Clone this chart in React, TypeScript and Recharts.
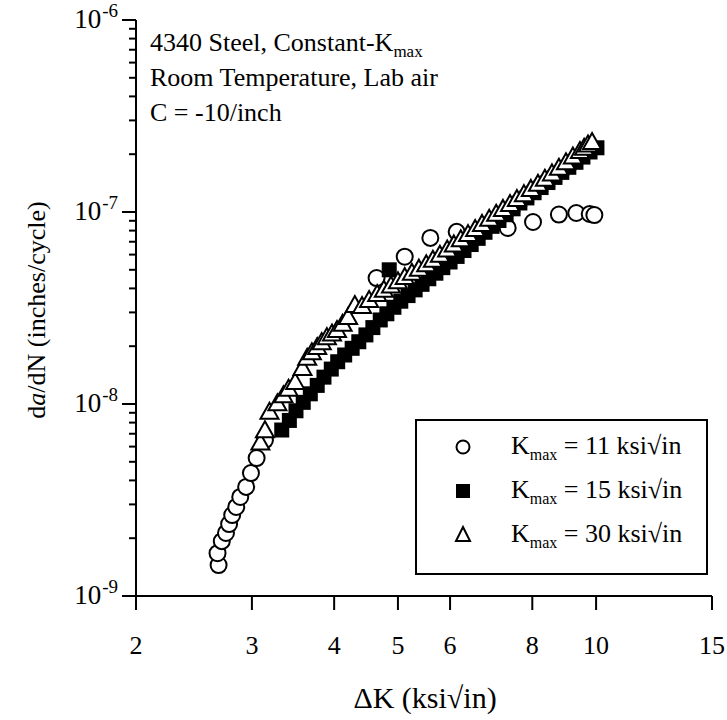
import React from "react";
import { ScatterChart, Scatter, XAxis, YAxis } from "recharts";

// Kmax = 11 ksi√in (open circles)
const dK11 = [2.67, 2.66, 2.7, 2.74, 2.77, 2.8, 2.84, 2.88, 2.94, 2.99, 3.05, 3.14, 4.64, 5.12, 5.6, 6.14, 7.34, 8.02, 8.78, 9.33, 9.78, 9.94];
const rate11 = [1.45e-9, 1.67e-9, 1.93e-9, 2.13e-9, 2.37e-9, 2.64e-9, 2.91e-9, 3.28e-9, 3.7e-9, 4.37e-9, 5.23e-9, 6.49e-9, 4.53e-8, 5.85e-8, 7.33e-8, 7.88e-8, 8.26e-8, 8.87e-8, 9.7e-8, 9.88e-8, 9.77e-8, 9.64e-8];

// Kmax = 15 ksi√in (filled squares)
const dK15 = [3.33, 3.42, 3.5, 3.59, 3.68, 3.77, 3.86, 3.96, 4.05, 4.15, 4.26, 4.36, 4.47, 4.58, 4.7, 4.85, 4.81, 4.93, 5.05, 5.18, 5.31, 5.44, 5.57, 5.71, 5.85, 6.0, 6.15, 6.3, 6.46, 6.62, 6.78, 6.95, 7.12, 7.3, 7.48, 7.66, 7.85, 8.05, 8.25, 8.45, 8.66, 8.87, 9.09, 9.32, 9.55, 9.79, 10.03];
const rate15 = [7.32e-9, 8.21e-9, 9.22e-9, 1.02e-8, 1.13e-8, 1.25e-8, 1.38e-8, 1.52e-8, 1.66e-8, 1.8e-8, 1.95e-8, 2.11e-8, 2.29e-8, 2.5e-8, 2.74e-8, 5.0e-8, 2.95e-8, 3.19e-8, 3.43e-8, 3.67e-8, 3.93e-8, 4.2e-8, 4.49e-8, 4.8e-8, 5.13e-8, 5.49e-8, 5.87e-8, 6.3e-8, 6.77e-8, 7.29e-8, 7.84e-8, 8.42e-8, 9.03e-8, 9.68e-8, 1.039e-7, 1.114e-7, 1.184e-7, 1.26e-7, 1.341e-7, 1.424e-7, 1.514e-7, 1.608e-7, 1.709e-7, 1.815e-7, 1.932e-7, 2.054e-7, 2.16e-7];

// Kmax = 30 ksi√in (open triangles)
const dK30 = [3.09, 3.14, 3.19, 3.28, 3.35, 3.41, 3.49, 3.58, 3.64, 3.7, 3.77, 3.83, 3.9, 3.97, 4.04, 4.12, 4.2, 4.3, 4.41, 4.52, 4.65, 4.76, 4.88, 5.0, 5.12, 5.25, 5.38, 5.52, 5.65, 5.79, 5.94, 6.08, 6.23, 6.39, 6.55, 6.71, 6.88, 7.05, 7.22, 7.4, 7.58, 7.77, 7.96, 8.16, 8.36, 8.57, 8.78, 9.0, 9.22, 9.45, 9.59, 9.72, 9.86];
const rate30 = [6.3e-9, 7.3e-9, 9.1e-9, 1.01e-8, 1.11e-8, 1.2e-8, 1.3e-8, 1.54e-8, 1.74e-8, 1.86e-8, 1.98e-8, 2.1e-8, 2.23e-8, 2.33e-8, 2.43e-8, 2.62e-8, 2.84e-8, 3.28e-8, 3.24e-8, 3.48e-8, 3.74e-8, 3.94e-8, 4.14e-8, 4.36e-8, 4.59e-8, 4.82e-8, 5.07e-8, 5.34e-8, 5.64e-8, 5.99e-8, 6.38e-8, 6.78e-8, 7.21e-8, 7.67e-8, 8.15e-8, 8.67e-8, 9.23e-8, 9.79e-8, 1.038e-7, 1.101e-7, 1.168e-7, 1.239e-7, 1.319e-7, 1.403e-7, 1.491e-7, 1.589e-7, 1.699e-7, 1.817e-7, 1.943e-7, 2.078e-7, 2.16e-7, 2.244e-7, 2.313e-7];

const xTicks = [2, 3, 4, 5, 6, 8, 10, 15];
const yDecades = [1e-9, 1e-8, 1e-7, 1e-6];
const legendValues = ["11", "15", "30"];
const notes = ["4340 Steel, Constant-K", "Room Temperature, Lab air", "C = -10/inch"];

const FONT = "'Liberation Serif', 'Times New Roman', serif";

const toPoints = (ks: number[], rs: number[]) => ks.map((k, i) => ({ k, r: rs[i] }));
const data11 = toPoints(dK11, rate11);
const data15 = toPoints(dK15, rate15);
const data30 = toPoints(dK30, rate30);

// major decades plus 2..9 minor ticks
const yTicks: number[] = [];
yDecades.forEach((d, i) => {
  yTicks.push(d);
  if (i < yDecades.length - 1) for (let m = 2; m <= 9; m++) yTicks.push(d * m);
});

const Circle = (p: any) => <circle cx={p.cx} cy={p.cy} r={8} fill="#fff" stroke="#000" strokeWidth={2} />;
const Square = (p: any) => <rect x={p.cx - 7.5} y={p.cy - 7.5} width={15} height={15} fill="#000" />;
const Triangle = (p: any) => (
  <path
    d={`M${p.cx},${p.cy - 9} L${p.cx + 9},${p.cy + 7} L${p.cx - 9},${p.cy + 7} Z`}
    fill="#fff"
    stroke="#000"
    strokeWidth={2}
  />
);

function XTick({ x, y, payload }: any) {
  return (
    <g>
      <line x1={x} x2={x} y1={y} y2={y + 14} stroke="#000" strokeWidth={2} />
      <text x={x} y={y + 58} textAnchor="middle" fontFamily={FONT} fontSize={26} fill="#000">
        {payload.value}
      </text>
    </g>
  );
}

function YTick({ x, y, payload }: any) {
  const lg = Math.log10(payload.value);
  const exp = Math.round(lg);
  const major = Math.abs(lg - exp) < 1e-6;
  return (
    <g>
      <line x1={x} x2={x - (major ? 14 : 7)} y1={y} y2={y} stroke="#000" strokeWidth={2} />
      {major && (
        <text x={x - 18} y={y + 8} textAnchor="end" fontFamily={FONT} fontSize={27} fill="#000">
          10
          <tspan dx={1} dy={-11} fontSize={19}>
            {exp}
          </tspan>
        </text>
      )}
    </g>
  );
}

export default function App() {
  return (
    <div style={{ position: "absolute", left: 0, top: 0, width: 727, height: 720, background: "#fff" }}>
      <ScatterChart width={727} height={720} margin={{ top: 20, right: 15, bottom: 64, left: 0 }}>
        <XAxis
          type="number"
          dataKey="k"
          scale="log"
          domain={[2, 15]}
          ticks={xTicks}
          interval={0}
          allowDataOverflow
          height={60}
          tickSize={0}
          tickMargin={0}
          tick={<XTick />}
          axisLine={{ stroke: "#000", strokeWidth: 2 }}
          tickLine={false}
        />
        <YAxis
          type="number"
          dataKey="r"
          scale="log"
          domain={[1e-9, 1e-6]}
          ticks={yTicks}
          interval={0}
          allowDataOverflow
          width={136}
          tickSize={0}
          tickMargin={0}
          tick={<YTick />}
          axisLine={{ stroke: "#000", strokeWidth: 2 }}
          tickLine={false}
        />
        <Scatter data={data11} shape={<Circle />} isAnimationActive={false} />
        <Scatter data={data15} shape={<Square />} isAnimationActive={false} />
        <Scatter data={data30} shape={<Triangle />} isAnimationActive={false} />
      </ScatterChart>

      <svg width={727} height={720} style={{ position: "absolute", left: 0, top: 0, pointerEvents: "none" }}>
        {/* notes, top left */}
        {notes.map((t, i) => (
          <text key={t} x={150} y={51 + i * 35} fontFamily={FONT} fontSize={26} fill="#000">
            {t}
            {i === 0 && (
              <tspan dy={6} fontSize={17}>
                max
              </tspan>
            )}
          </text>
        ))}

        {/* axis titles */}
        <text x={425} y={708} textAnchor="middle" fontFamily={FONT} fontSize={30} fill="#000">
          ΔK (ksi√in)
        </text>
        <text
          transform="translate(45,310) rotate(-90)"
          textAnchor="middle"
          fontFamily={FONT}
          fontSize={26}
          fill="#000"
        >
          d<tspan fontStyle="italic">a</tspan>/dN (inches/cycle)
        </text>

        {/* legend */}
        <rect x={416} y={420} width={291} height={154} fill="#fff" stroke="#000" strokeWidth={2} />
        {legendValues.map((v, i) => {
          const cy = 447 + i * 44;
          return (
            <g key={v}>
              {i === 0 && <circle cx={463} cy={cy} r={6.5} fill="#fff" stroke="#000" strokeWidth={2} />}
              {i === 1 && <rect x={456} y={cy - 7} width={14} height={14} fill="#000" />}
              {i === 2 && (
                <path d={`M463,${cy - 8} L470,${cy + 6} L456,${cy + 6} Z`} fill="#fff" stroke="#000" strokeWidth={2} />
              )}
              <text x={511} y={cy + 7} fontFamily={FONT} fontSize={26} fill="#000">
                K
                <tspan dy={6} fontSize={16}>
                  max
                </tspan>
                <tspan dy={-6}> = {v} ksi√in</tspan>
              </text>
            </g>
          );
        })}
      </svg>
    </div>
  );
}
